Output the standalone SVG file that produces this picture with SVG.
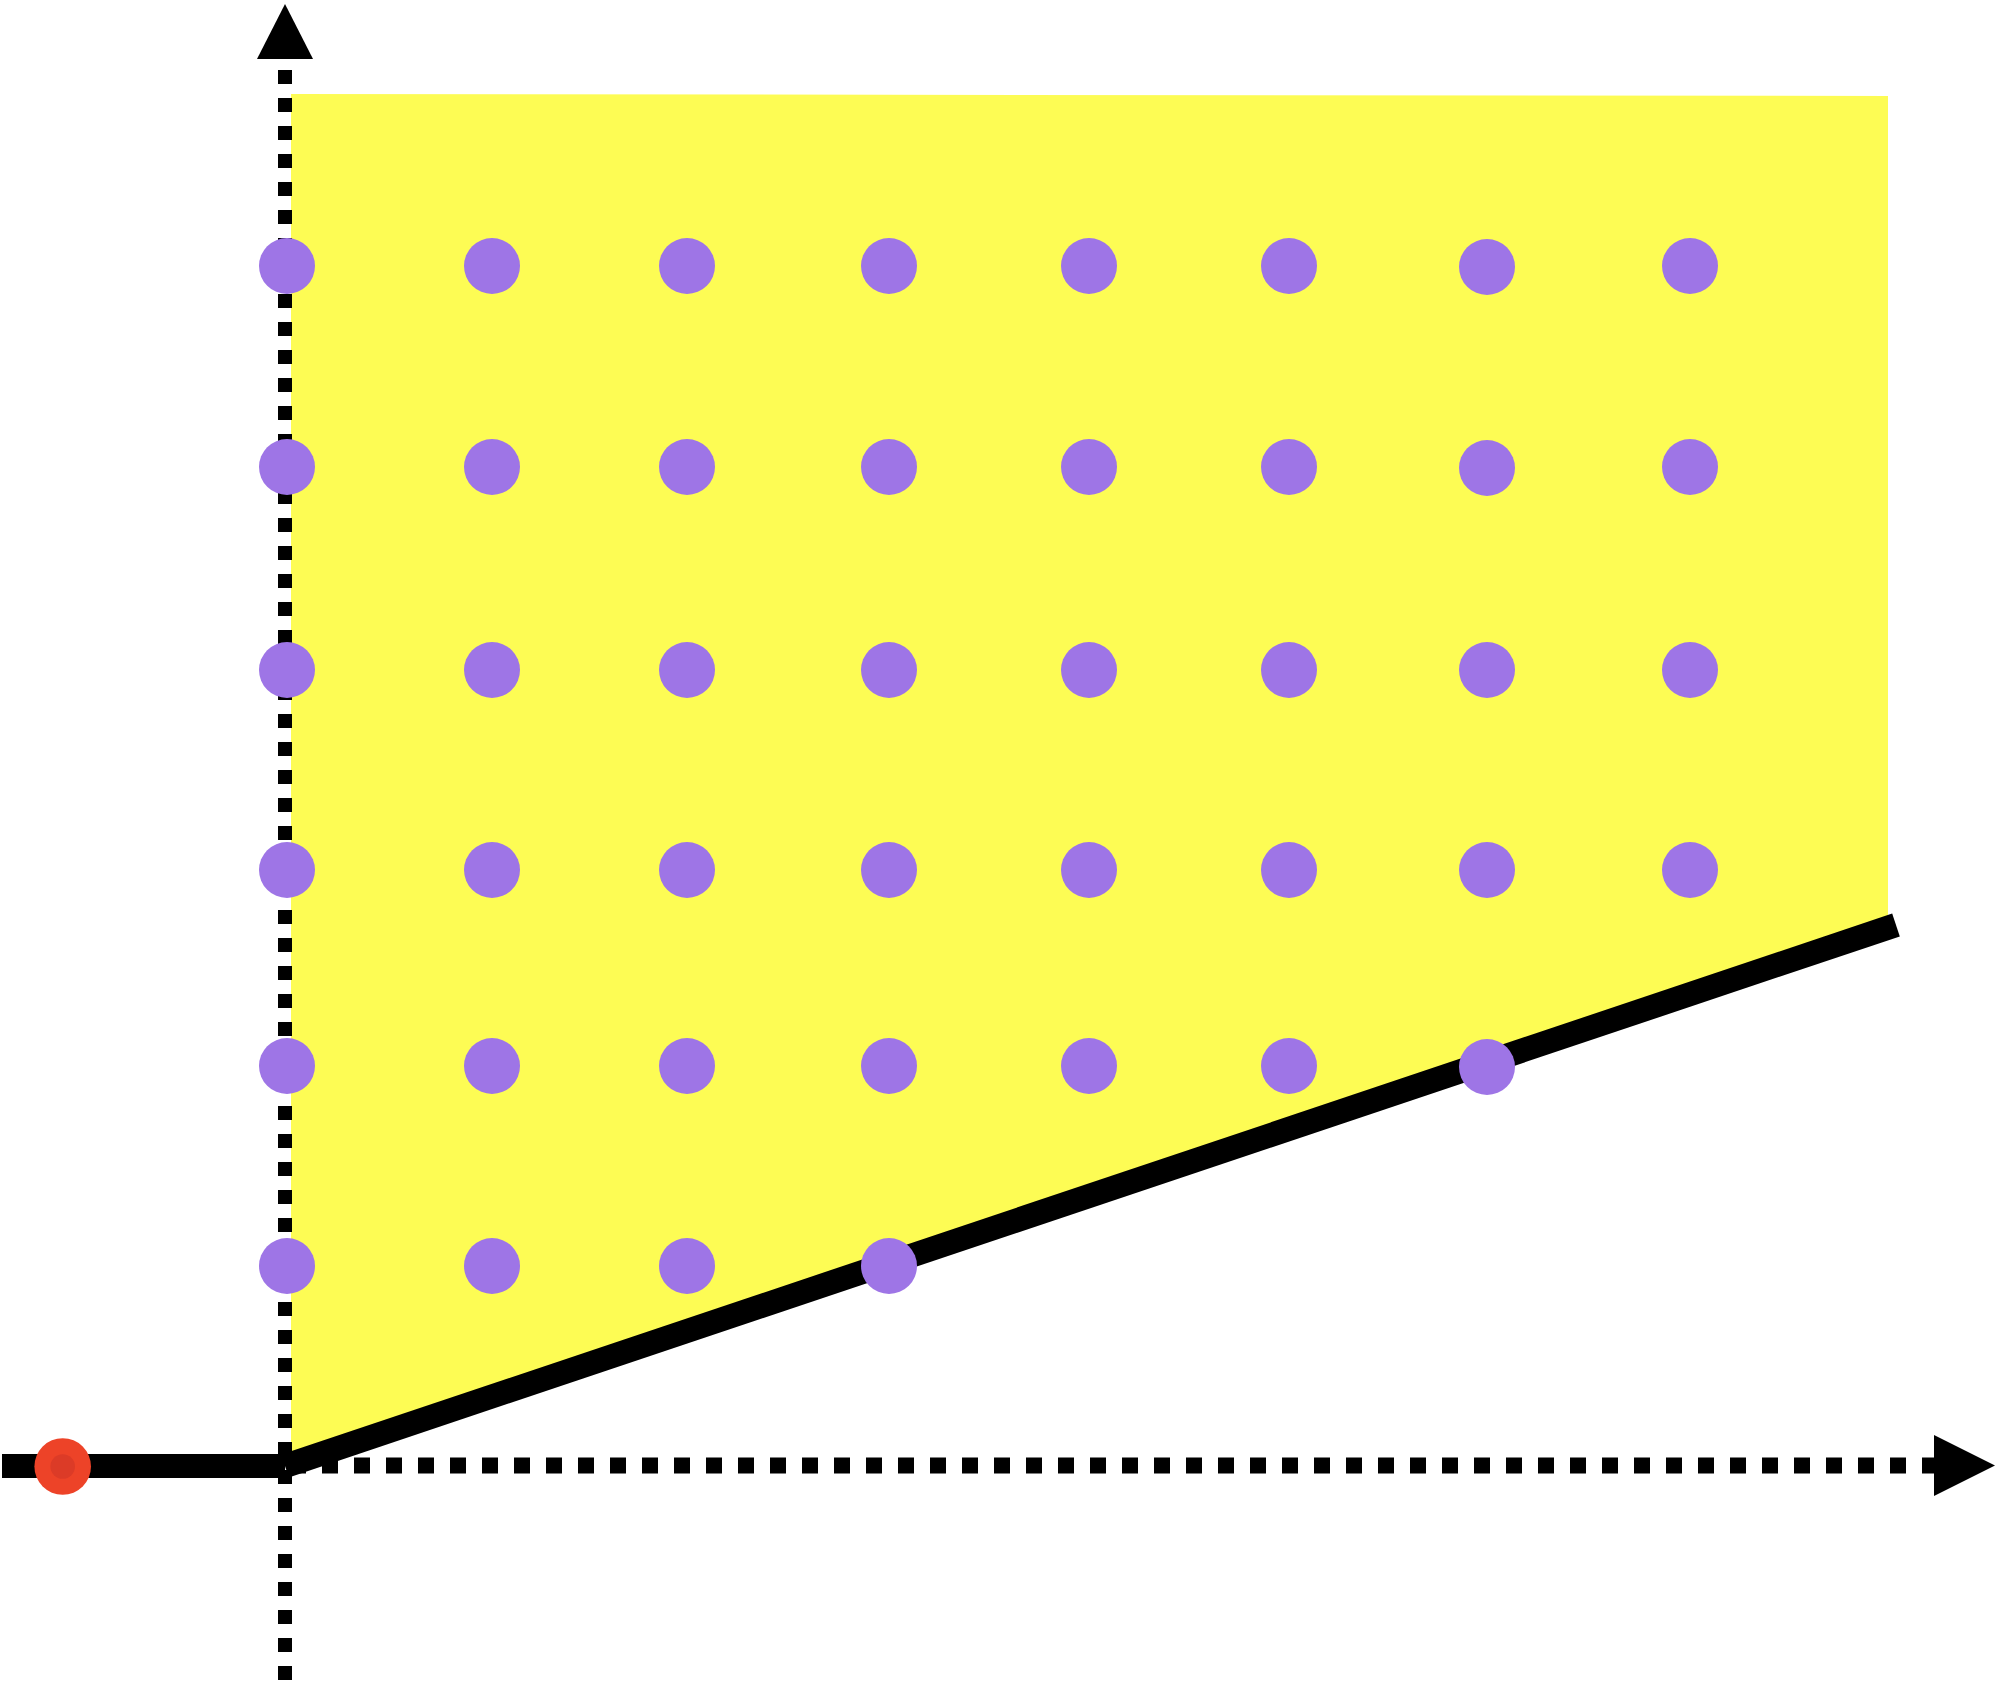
<svg xmlns="http://www.w3.org/2000/svg" width="1998" height="1682" viewBox="0 0 1998 1682">
<style>
.dot{fill:#9e75e6}
.axis{fill:none;stroke:#000}
.head{fill:#000}
.thick{fill:none;stroke:#000;stroke-width:24;stroke-linecap:butt}
</style>
<rect width="1998" height="1682" fill="#fff"/>
<polygon id="region" points="291,94 1888,96 1888,927.7 291,1464" fill="#fdfc54"/>
<g id="connectors">
<line class="axis" x1="285" y1="1680" x2="285" y2="58" stroke-width="14" stroke-dasharray="14 14"/>
<polygon class="head" points="285,4 313,59 257,59"/>
<line class="axis" x1="290" y1="1465.5" x2="1934" y2="1465.5" stroke-width="16" stroke-dasharray="16 16"/>
<polygon class="head" points="1995,1465.5 1934,1435 1934,1496"/>
<line class="thick" x1="2" y1="1466" x2="285" y2="1466"/>
<line class="thick" x1="285" y1="1466" x2="1896" y2="925"/>
</g>
<g id="origin-point">
<circle cx="62.7" cy="1466.5" r="28.3" fill="#ed4328"/>
<circle cx="62.7" cy="1466.5" r="12.3" fill="#dc3b27"/>
</g>
<g id="lattice">
<g id="row1"><circle class="dot" cx="287" cy="266" r="28"/><circle class="dot" cx="492" cy="266" r="28"/><circle class="dot" cx="687" cy="266" r="28"/><circle class="dot" cx="889" cy="266" r="28"/><circle class="dot" cx="1089" cy="266" r="28"/><circle class="dot" cx="1289" cy="266" r="28"/><circle class="dot" cx="1487" cy="267" r="28"/><circle class="dot" cx="1690" cy="266" r="28"/></g>
<g id="row2"><circle class="dot" cx="287" cy="467" r="28"/><circle class="dot" cx="492" cy="467" r="28"/><circle class="dot" cx="687" cy="467" r="28"/><circle class="dot" cx="889" cy="467" r="28"/><circle class="dot" cx="1089" cy="467" r="28"/><circle class="dot" cx="1289" cy="467" r="28"/><circle class="dot" cx="1487" cy="468" r="28"/><circle class="dot" cx="1690" cy="467" r="28"/></g>
<g id="row3"><circle class="dot" cx="287" cy="670" r="28"/><circle class="dot" cx="492" cy="670" r="28"/><circle class="dot" cx="687" cy="670" r="28"/><circle class="dot" cx="889" cy="670" r="28"/><circle class="dot" cx="1089" cy="670" r="28"/><circle class="dot" cx="1289" cy="670" r="28"/><circle class="dot" cx="1487" cy="670" r="28"/><circle class="dot" cx="1690" cy="670" r="28"/></g>
<g id="row4"><circle class="dot" cx="287" cy="870" r="28"/><circle class="dot" cx="492" cy="870" r="28"/><circle class="dot" cx="687" cy="870" r="28"/><circle class="dot" cx="889" cy="870" r="28"/><circle class="dot" cx="1089" cy="870" r="28"/><circle class="dot" cx="1289" cy="870" r="28"/><circle class="dot" cx="1487" cy="870" r="28"/><circle class="dot" cx="1690" cy="870" r="28"/></g>
<g id="row5"><circle class="dot" cx="287" cy="1066" r="28"/><circle class="dot" cx="492" cy="1066" r="28"/><circle class="dot" cx="687" cy="1066" r="28"/><circle class="dot" cx="889" cy="1066" r="28"/><circle class="dot" cx="1089" cy="1066" r="28"/><circle class="dot" cx="1289" cy="1066" r="28"/><circle class="dot" cx="1487" cy="1067" r="28"/></g>
<g id="row6"><circle class="dot" cx="287" cy="1266" r="28"/><circle class="dot" cx="492" cy="1266" r="28"/><circle class="dot" cx="687" cy="1266" r="28"/><circle class="dot" cx="889" cy="1266" r="28"/></g>
</g>
</svg>
